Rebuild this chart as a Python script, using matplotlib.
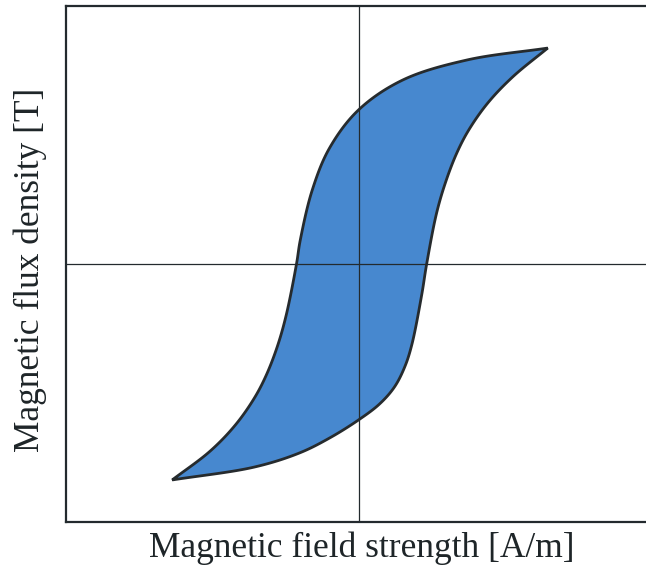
import matplotlib
matplotlib.use("Agg")
import matplotlib.pyplot as plt
from matplotlib.patches import Polygon
import numpy as np

# Descending branch: from positive saturation back to negative saturation
H_down = [647, 370, 151, 0, -99, -158, -199, -212, -247, -277, -315, -356,
          -421, -507, -637]
B_down = [1.674, 1.581, 1.426, 1.194, 0.899, 0.574, 0.186, 0.0, -0.395, -0.636,
          -0.860, -1.039, -1.248, -1.450, -1.674]

# Ascending branch: from negative saturation up to positive saturation
H_up = [-637, -356, -202, -99, 0, 72, 123, 158, 182, 216, 233, 267, 298, 336,
        377, 442, 527, 647]
B_up = [-1.674, -1.574, -1.465, -1.349, -1.209, -1.085, -0.953, -0.798, -0.628,
        -0.240, 0.0, 0.395, 0.636, 0.860, 1.039, 1.248, 1.450, 1.674]

x_label = "Magnetic field strength [A/m]"
y_label = "Magnetic flux density [T]"

H_LIM = (-1000, 1000)
B_LIM = (-2, 2)


def smooth_branch(hs, bs, sx, sy, n=24):
    """Centripetal Catmull-Rom curve through the branch points (in screen-like units)."""
    p = np.column_stack([np.asarray(hs, float) * sx, np.asarray(bs, float) * sy])
    ext = np.vstack([2 * p[0] - p[1], p, 2 * p[-1] - p[-2]])
    out = [p[0]]
    for i in range(1, len(ext) - 2):
        p0, p1, p2, p3 = ext[i - 1], ext[i], ext[i + 1], ext[i + 2]
        t0 = 0.0
        t1 = t0 + np.linalg.norm(p1 - p0) ** 0.5
        t2 = t1 + np.linalg.norm(p2 - p1) ** 0.5
        t3 = t2 + np.linalg.norm(p3 - p2) ** 0.5
        t = np.linspace(t1, t2, n)[1:, None]
        a1 = (t1 - t) / (t1 - t0) * p0 + (t - t0) / (t1 - t0) * p1
        a2 = (t2 - t) / (t2 - t1) * p1 + (t - t1) / (t2 - t1) * p2
        a3 = (t3 - t) / (t3 - t2) * p2 + (t - t2) / (t3 - t2) * p3
        b1 = (t2 - t) / (t2 - t0) * a1 + (t - t0) / (t2 - t0) * a2
        b2 = (t3 - t) / (t3 - t1) * a2 + (t - t1) / (t3 - t1) * a3
        c = (t2 - t) / (t2 - t1) * b1 + (t - t1) / (t2 - t1) * b2
        out.extend(c)
    out = np.array(out)
    return out[:, 0] / sx, out[:, 1] / sy


W, Hh = 646, 569
fig = plt.figure(figsize=(W / 100, Hh / 100), dpi=100)
ax_l, ax_r, ax_b, ax_t = 66, 651, 522, 6
ax = fig.add_axes([ax_l / W, 1 - ax_b / Hh, (ax_r - ax_l) / W, (ax_b - ax_t) / Hh])
ax.set_xlim(*H_LIM)
ax.set_ylim(*B_LIM)

edge = "#232a2e"
for s in ax.spines.values():
    s.set_color(edge)
    s.set_linewidth(1.6)
ax.set_xticks([])
ax.set_yticks([])

# Scale factors so the spline is built in pixel-proportional units
sx = (ax_r - ax_l) / (H_LIM[1] - H_LIM[0])
sy = (ax_b - ax_t) / (B_LIM[1] - B_LIM[0])
hd, bd = smooth_branch(H_down, B_down, sx, sy)
hu, bu = smooth_branch(H_up, B_up, sx, sy)

xs = np.concatenate([hd, hu[1:-1]])
ys = np.concatenate([bd, bu[1:-1]])
loop = Polygon(np.column_stack([xs, ys]), closed=True, facecolor="#4788cf",
               edgecolor="#262b2e", linewidth=2.0, joinstyle="miter", zorder=2)
ax.add_patch(loop)

ax.axhline(0, color=edge, linewidth=0.9, zorder=3)
ax.axvline(0, color=edge, linewidth=0.9, zorder=3)

font = dict(family=["Liberation Serif", "DejaVu Serif"], size=25.5, color="#1e2528")
fig.text(362 / W, 1 - 548 / Hh, x_label, ha="center", va="center", **font)
fig.text(30 / W, 1 - 270 / Hh, y_label, ha="center", va="center", rotation=90, **font)

fig.savefig("out.png", dpi=100, facecolor="white")
